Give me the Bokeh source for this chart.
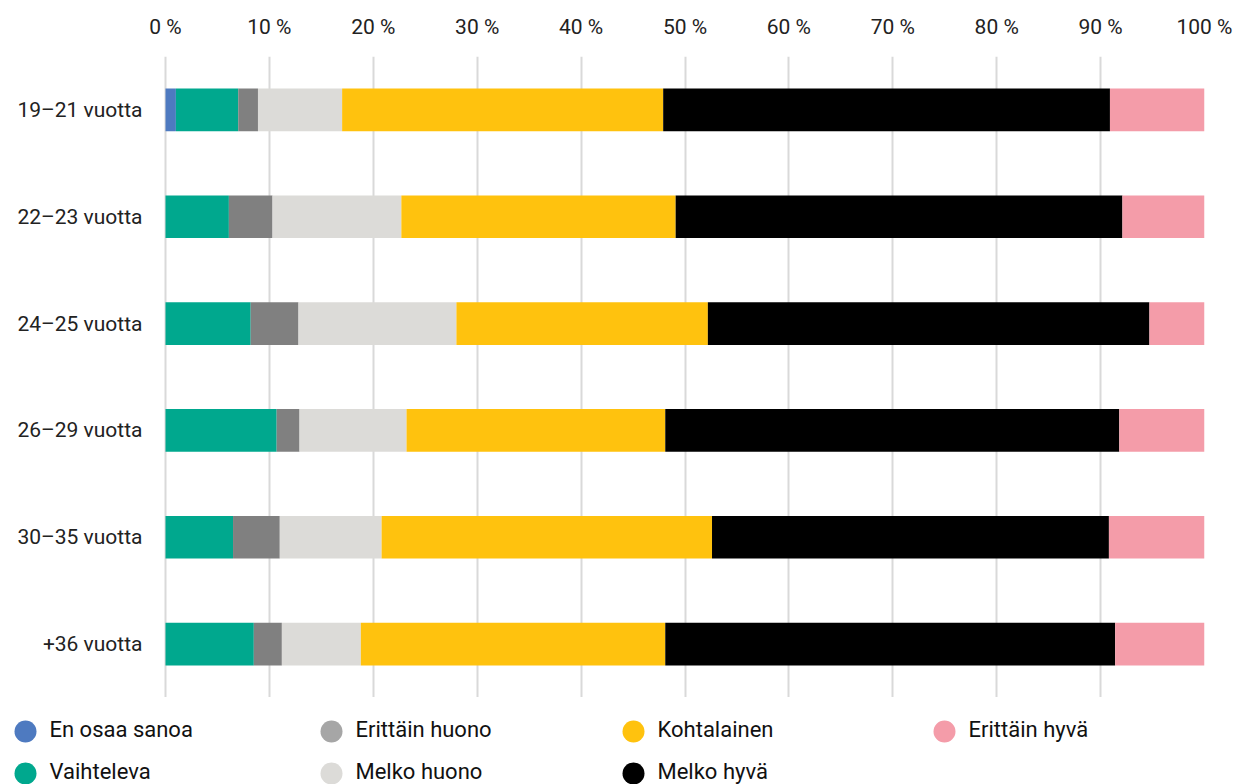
from bokeh.plotting import figure
from bokeh.layouts import column
from bokeh.models import ColumnDataSource, FactorRange, Range1d, FixedTicker
from bokeh.core.properties import value
from bokeh.embed import file_html
from bokeh.resources import INLINE

ages = ["19–21 vuotta", "22–23 vuotta", "24–25 vuotta", "26–29 vuotta", "30–35 vuotta", "+36 vuotta"]
series = ["En osaa sanoa", "Vaihteleva", "Erittäin huono", "Melko huono", "Kohtalainen", "Melko hyvä", "Erittäin hyvä"]

en_osaa_sanoa = [1.0, 0.0, 0.0, 0.0, 0.0, 0.0]
vaihteleva = [6.0, 6.1, 8.2, 10.7, 6.5, 8.5]
erittain_huono = [1.9, 4.2, 4.6, 2.2, 4.5, 2.7]
melko_huono = [8.1, 12.4, 15.2, 10.3, 9.8, 7.6]
kohtalainen = [30.9, 26.4, 24.2, 24.9, 31.8, 29.3]
melko_hyva = [43.0, 43.0, 42.5, 43.7, 38.2, 43.3]
erittain_hyva = [9.1, 7.9, 5.3, 8.2, 9.2, 8.6]

tick_values = [0, 10, 20, 30, 40, 50, 60, 70, 80, 90, 100]
tick_labels = ["0 %", "10 %", "20 %", "30 %", "40 %", "50 %", "60 %", "70 %", "80 %", "90 %", "100 %"]

bar_colors = ["#4E7AC0", "#00A88E", "#808080", "#DCDBD8", "#FFC20E", "#000000", "#F49CA9"]
legend_colors = ["#4E7AC0", "#00A88E", "#A6A6A6", "#DCDBD8", "#FFC20E", "#000000", "#F49CA9"]

FONT = "Roboto"

# ---- layout constants (pixels) ----
W = 1234
LEFT = 165          # space for the category labels
RIGHT = 30
TOP = 56
PLOT_H = 697
LEG_H = 87
PX_PER_UNIT = (W - RIGHT - LEFT) / 100.0
LABEL_GAP = 23
LEG_COL_X = [25, 331, 633, 944]
LEG_ROW_Y = [34, 76]
LEG_TEXT_DX = 24
LEG_TEXT_DY = -2

keys = ["s0", "s1", "s2", "s3", "s4", "s5", "s6"]
data = {"age": ages}
for k, vals in zip(keys, [en_osaa_sanoa, vaihteleva, erittain_huono, melko_huono,
                          kohtalainen, melko_hyva, erittain_hyva]):
    data[k] = vals
data["label_x"] = [-LABEL_GAP / PX_PER_UNIT] * len(ages)
source = ColumnDataSource(data)

p = figure(width=W, height=PLOT_H, output_backend="svg", toolbar_location=None,
           y_range=FactorRange(*reversed(ages)),
           x_range=Range1d(-LEFT / PX_PER_UNIT, 100),
           x_axis_location="above", y_axis_location=None,
           min_border_left=0, min_border_right=RIGHT, min_border_top=TOP, min_border_bottom=0)

p.hbar_stack(keys, y="age", height=0.4, color=bar_colors, line_color=None, source=source)

# category labels
p.text(x="label_x", y="age", text="age", source=source,
       text_align="right", text_baseline="middle",
       text_font=value(FONT), text_font_size="21px", text_color="#222222")

p.outline_line_color = None
p.background_fill_color = "white"

xa = p.xaxis[0]
xa.ticker = FixedTicker(ticks=tick_values)
xa.major_label_overrides = {v: l for v, l in zip(tick_values, tick_labels)}
xa.axis_line_color = None
xa.major_tick_line_color = None
xa.minor_tick_line_color = None
xa.major_tick_out = 0
xa.major_label_standoff = 18
xa.major_label_text_font = FONT
xa.major_label_text_font_size = "21px"
xa.major_label_text_color = "#222222"

p.xgrid.grid_line_color = "#D9D9D9"
p.xgrid.grid_line_width = 2
p.xgrid.ticker = FixedTicker(ticks=tick_values)
p.ygrid.grid_line_color = None

# ---- legend strip ----
lf = figure(width=W, height=LEG_H, output_backend="svg", toolbar_location=None,
            x_range=Range1d(0, W - RIGHT), y_range=Range1d(LEG_H, 0),
            x_axis_location=None, y_axis_location=None,
            min_border_left=0, min_border_right=RIGHT, min_border_top=0, min_border_bottom=0)
lf.grid.visible = False
lf.outline_line_color = None

leg = {"name": series, "color": legend_colors,
       "cx": [LEG_COL_X[i // 2] for i in range(len(series))],
       "cy": [LEG_ROW_Y[i % 2] for i in range(len(series))]}
leg["tx"] = [x + LEG_TEXT_DX for x in leg["cx"]]
leg["ty"] = [y + LEG_TEXT_DY for y in leg["cy"]]
lsrc = ColumnDataSource(leg)
lf.scatter(x="cx", y="cy", size=22, marker="circle", fill_color="color", line_color=None, source=lsrc)
lf.text(x="tx", y="ty", text="name", source=lsrc, text_align="left", text_baseline="middle",
        text_font=value(FONT), text_font_size="22px", text_color="#111111")

layout = column(p, lf, spacing=0)

open("out.html", "w").write(file_html(layout, INLINE))
